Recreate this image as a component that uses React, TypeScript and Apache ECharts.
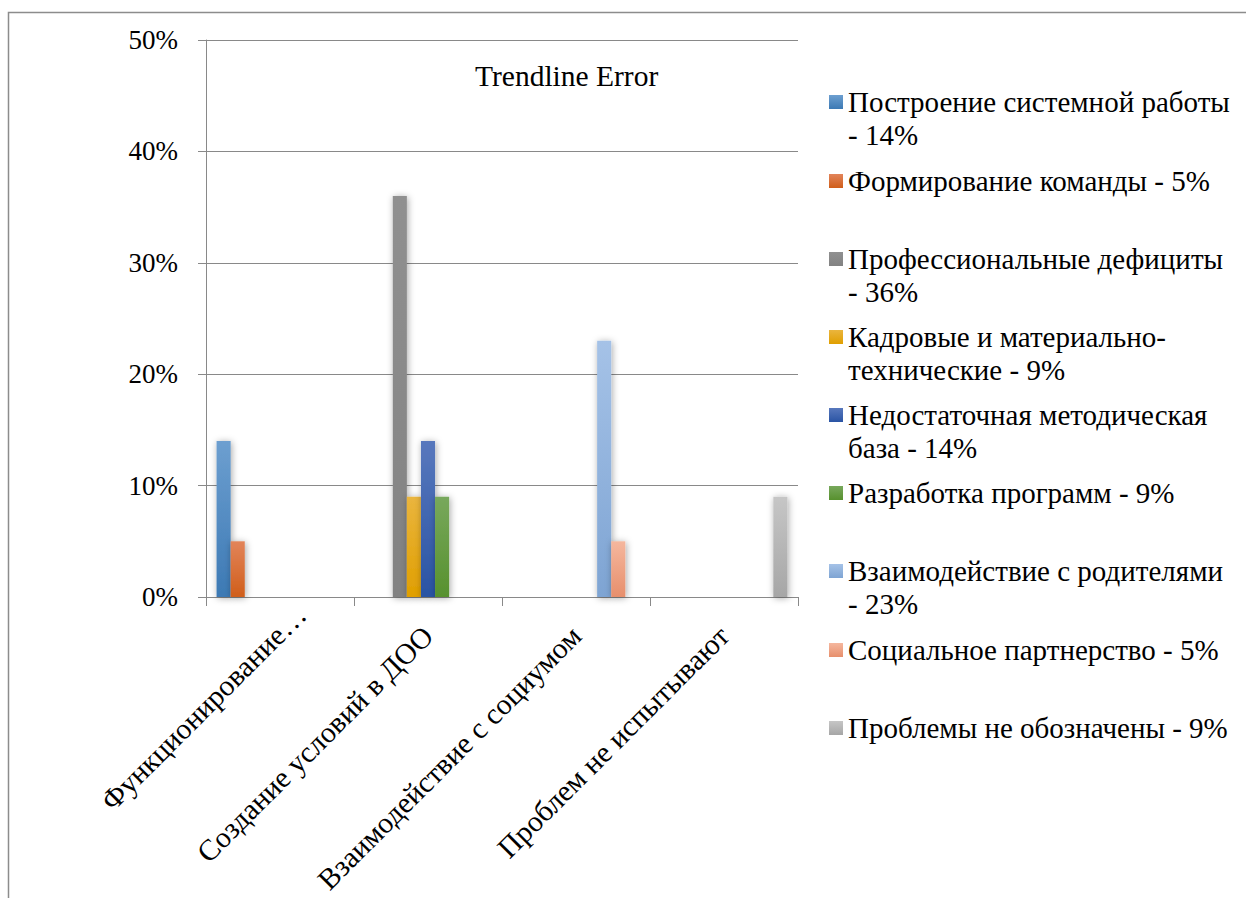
import React, { useEffect, useRef } from "react";
import * as echarts from "echarts";

const categories = [
  "Функционирование…",
  "Создание условий в ДОО",
  "Взаимодействие с социумом",
  "Проблем не испытывают",
];

const seriesNames = [
  "Построение системной работы - 14%",
  "Формирование команды - 5%",
  "Профессиональные дефициты - 36%",
  "Кадровые и материально-технические - 9%",
  "Недостаточная методическая база - 14%",
  "Разработка программ - 9%",
  "Взаимодействие с родителями - 23%",
  "Социальное партнерство - 5%",
  "Проблемы не обозначены - 9%",
];

const legendLines = [
  ["Построение системной работы", "- 14%"],
  ["Формирование команды - 5%"],
  ["Профессиональные дефициты", "- 36%"],
  ["Кадровые и материально-", "технические - 9%"],
  ["Недостаточная методическая", "база - 14%"],
  ["Разработка программ - 9%"],
  ["Взаимодействие с родителями", "- 23%"],
  ["Социальное партнерство - 5%"],
  ["Проблемы не обозначены - 9%"],
];

const seriesValues: (number | null)[][] = [
  [14, null, null, null],
  [5, null, null, null],
  [null, 36, null, null],
  [null, 9, null, null],
  [null, 14, null, null],
  [null, 9, null, null],
  [null, null, 23, null],
  [null, null, 5, null],
  [null, null, null, 9],
];

const yTicks = [0, 10, 20, 30, 40, 50];

const seriesColors: [string, string][] = [
  ["#6d9fd0", "#3c79b4"],
  ["#e2845a", "#d05e1a"],
  ["#909090", "#828282"],
  ["#eab53e", "#e09f00"],
  ["#5878bd", "#2a54a4"],
  ["#78a85c", "#57912e"],
  ["#a5c2e7", "#7ea4d3"],
  ["#f5b79e", "#e78f6c"],
  ["#c6c6c6", "#a6a6a6"],
];

const FONT = "'Liberation Serif', 'Times New Roman', serif";

export default function App() {
  const ref = useRef<HTMLDivElement>(null);

  useEffect(() => {
    if (!ref.current) return;
    const chart = echarts.init(ref.current, undefined, { renderer: "svg" });

    const lineH = 33;
    const legendCenters = [102, 181, 259, 337, 415, 493, 571, 650, 728];

    const legends = seriesNames.map((name, i) => {
      const lines = legendLines[i].length;
      const total = (2 * lines - 1) * lineH;
      const text =
        lines > 1 ? "\n".repeat(lines - 1) + legendLines[i].join("\n") : legendLines[i][0];
      return {
        data: [name],
        left: 829,
        top: legendCenters[i] - total / 2,
        padding: 0,
        orient: "vertical",
        icon: "rect",
        itemWidth: 14,
        itemHeight: 14,
        formatter: () => text,
        textStyle: {
          fontFamily: FONT,
          fontSize: 29,
          color: "#000",
          lineHeight: lineH,
        },
      };
    });

    const option: any = {
      animation: false,
      backgroundColor: "#fff",
      title: {
        text: "Trendline Error",
        left: 475,
        top: 61,
        padding: 0,
        textStyle: {
          fontFamily: FONT,
          fontSize: 29.5,
          fontWeight: "normal",
          color: "#000",
        },
      },
      legend: legends,
      grid: { left: 206, top: 40, right: 448, bottom: 301, containLabel: false },
      xAxis: {
        type: "category",
        data: categories,
        axisLine: { show: true, lineStyle: { color: "#898989", width: 1 } },
        axisTick: { show: true, length: 9, interval: 0, lineStyle: { color: "#898989" } },
        axisLabel: {
          interval: 0,
          rotate: 45,
          margin: 34,
          fontFamily: FONT,
          fontSize: 29.5,
          color: "#000",
          formatter: (v: string, idx: number) => (idx === 0 ? `{f|${v}}` : v),
          rich: {
            f: {
              fontFamily: FONT,
              fontSize: 29.5,
              color: "#000",
              padding: [0, -30, 0, 0],
            },
          },
        },
      },
      yAxis: {
        type: "value",
        min: yTicks[0],
        max: yTicks[yTicks.length - 1],
        interval: 10,
        axisLine: { show: true, lineStyle: { color: "#898989", width: 1 } },
        axisTick: { show: true, length: 8, lineStyle: { color: "#898989" } },
        splitLine: { show: true, lineStyle: { color: "#898989", width: 1 } },
        axisLabel: {
          formatter: "{value}%",
          margin: 28,
          fontFamily: FONT,
          fontSize: 27,
          color: "#000",
        },
      },
      graphic: [
        {
          type: "polyline",
          silent: true,
          shape: { points: [[8.5, 898], [8.5, 12.5], [1246, 12.5]] },
          style: { stroke: "#8c8c8c", lineWidth: 1.5, fill: null },
        },
      ],
      series: seriesNames.map((name, i) => ({
        name,
        type: "bar",
        data: seriesValues[i],
        barGap: "0%",
        barCategoryGap: "14.3%",
        itemStyle: {
          color: new echarts.graphic.LinearGradient(0, 0, 0, 1, [
            { offset: 0, color: seriesColors[i][0] },
            { offset: 1, color: seriesColors[i][1] },
          ]),
          shadowBlur: 7,
          shadowColor: "rgba(0,0,0,0.35)",
          shadowOffsetX: 1,
          shadowOffsetY: 1,
        },
      })),
    };

    chart.setOption(option);
    return () => chart.dispose();
  }, []);

  return (
    <div
      ref={ref}
      style={{ position: "absolute", left: 0, top: 0, width: 1246, height: 898 }}
    />
  );
}
